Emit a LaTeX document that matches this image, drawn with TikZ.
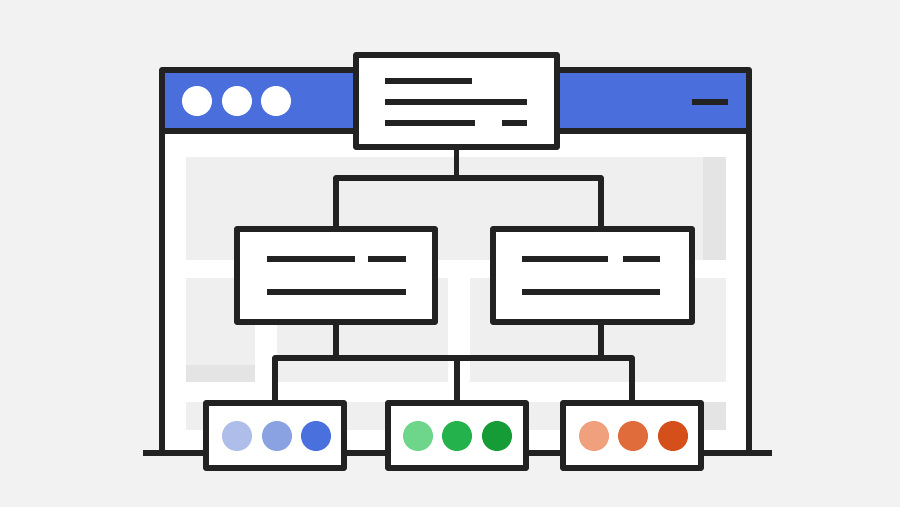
\documentclass[tikz,border=0pt]{standalone}
\definecolor{bg}{HTML}{F2F2F2}
\definecolor{ink}{HTML}{222222}
\definecolor{panel}{HTML}{EFEFEF}
\definecolor{stripgray}{HTML}{E4E4E4}
\definecolor{winblue}{HTML}{4A6FDC}
\definecolor{dotA1}{HTML}{AFBDEA}
\definecolor{dotA2}{HTML}{8AA2E2}
\definecolor{dotA3}{HTML}{4A70DD}
\definecolor{dotB1}{HTML}{6DD68A}
\definecolor{dotB2}{HTML}{23B24B}
\definecolor{dotB3}{HTML}{169C36}
\definecolor{dotC1}{HTML}{F0A07D}
\definecolor{dotC2}{HTML}{E06C3B}
\definecolor{dotC3}{HTML}{D44F19}
\begin{document}
\begin{tikzpicture}[x=0.02cm,y=-0.02cm,
    card/.style={draw=ink,fill=white,line width=3.4pt,line join=round,inner sep=0pt,outer sep=0pt},
    wire/.style={draw=ink,line width=3.4pt,line join=round},
    textbar/.style={draw=ink,line width=3.3pt}]
                \useasboundingbox[fill=bg] (0,0) rectangle (900,507);
                %% window body and content panels
                \fill[white] (162,70) rectangle (749,453);
                \fill[panel] (186,157) rectangle (726,260);
                \fill[stripgray] (703,157) rectangle (726,260);
                \fill[panel] (186,278) rectangle (255,382);
                \fill[stripgray] (186,365) rectangle (255,382);
                \fill[panel] (277,278) rectangle (448,382);
                \fill[panel] (470,278) rectangle (726,382);
                \fill[panel] (186,402) rectangle (726,430);
                \fill[stripgray] (703,402) rectangle (726,430);
                %% title bar
                \fill[winblue] (162,70) rectangle (749,131);
                \draw[wire] (162,453) -- (162,70) -- (749,70) -- (749,453);
                \draw[wire] (162,131) -- (749,131);
                \foreach \x in {197,237,276} \fill[white] (\x,101) circle[radius=0.3cm];
                \draw[textbar] (692,102) -- (728,102);
                %% ground line
                \draw[wire] (143,453) -- (772,453);
                %% boxes
                \node[card,minimum width=4.02cm,minimum height=1.84cm] (head) at (456.5,101) {};
                \node[card,minimum width=3.96cm,minimum height=1.86cm] (midL) at (336,275.5) {};
                \node[card,minimum width=3.98cm,minimum height=1.86cm] (midR) at (592.5,275.5) {};
                \node[card,minimum width=2.76cm,minimum height=1.30cm] (botA) at (275,435.5) {};
                \node[card,minimum width=2.76cm,minimum height=1.30cm] (botB) at (457,435.5) {};
                \node[card,minimum width=2.76cm,minimum height=1.30cm] (botC) at (632,435.5) {};
                %% connectors
                \coordinate (fork1) at (456.5,178);
                \coordinate (fork2) at (457,358);
                \draw[wire] (head.south) -- (fork1);
                \draw[wire] (midL.north) |- (fork1) -| ([xshift=0.17cm]midR.north);
                \draw[wire] (midL.south) -- (midL.south |- fork2);
                \draw[wire] ([xshift=0.17cm]midR.south) -- ([xshift=0.17cm]midR.south |- fork2);
                \draw[wire] (botA.north) |- (fork2) -| (botC.north);
                \draw[wire] (botB.north) -- (fork2);
                %% text lines
                \draw[textbar] (385,81) -- (472,81);
                \draw[textbar] (385,102) -- (527,102);
                \draw[textbar] (385,123) -- (475,123);
                \draw[textbar] (502,123) -- (527,123);
                \draw[textbar] (267,259) -- (355,259);
                \draw[textbar] (368,259) -- (406,259);
                \draw[textbar] (267,292) -- (406,292);
                \draw[textbar] (522,259) -- (608,259);
                \draw[textbar] (623,259) -- (660,259);
                \draw[textbar] (522,292) -- (660,292);
                %% dots
                \foreach \x/\c in {237/dotA1,277/dotA2,316/dotA3,418/dotB1,457/dotB2,497/dotB3,594/dotC1,633/dotC2,673/dotC3}
                    \fill[\c] (\x,436) circle[radius=0.3cm];
            \end{tikzpicture}
\end{document}
